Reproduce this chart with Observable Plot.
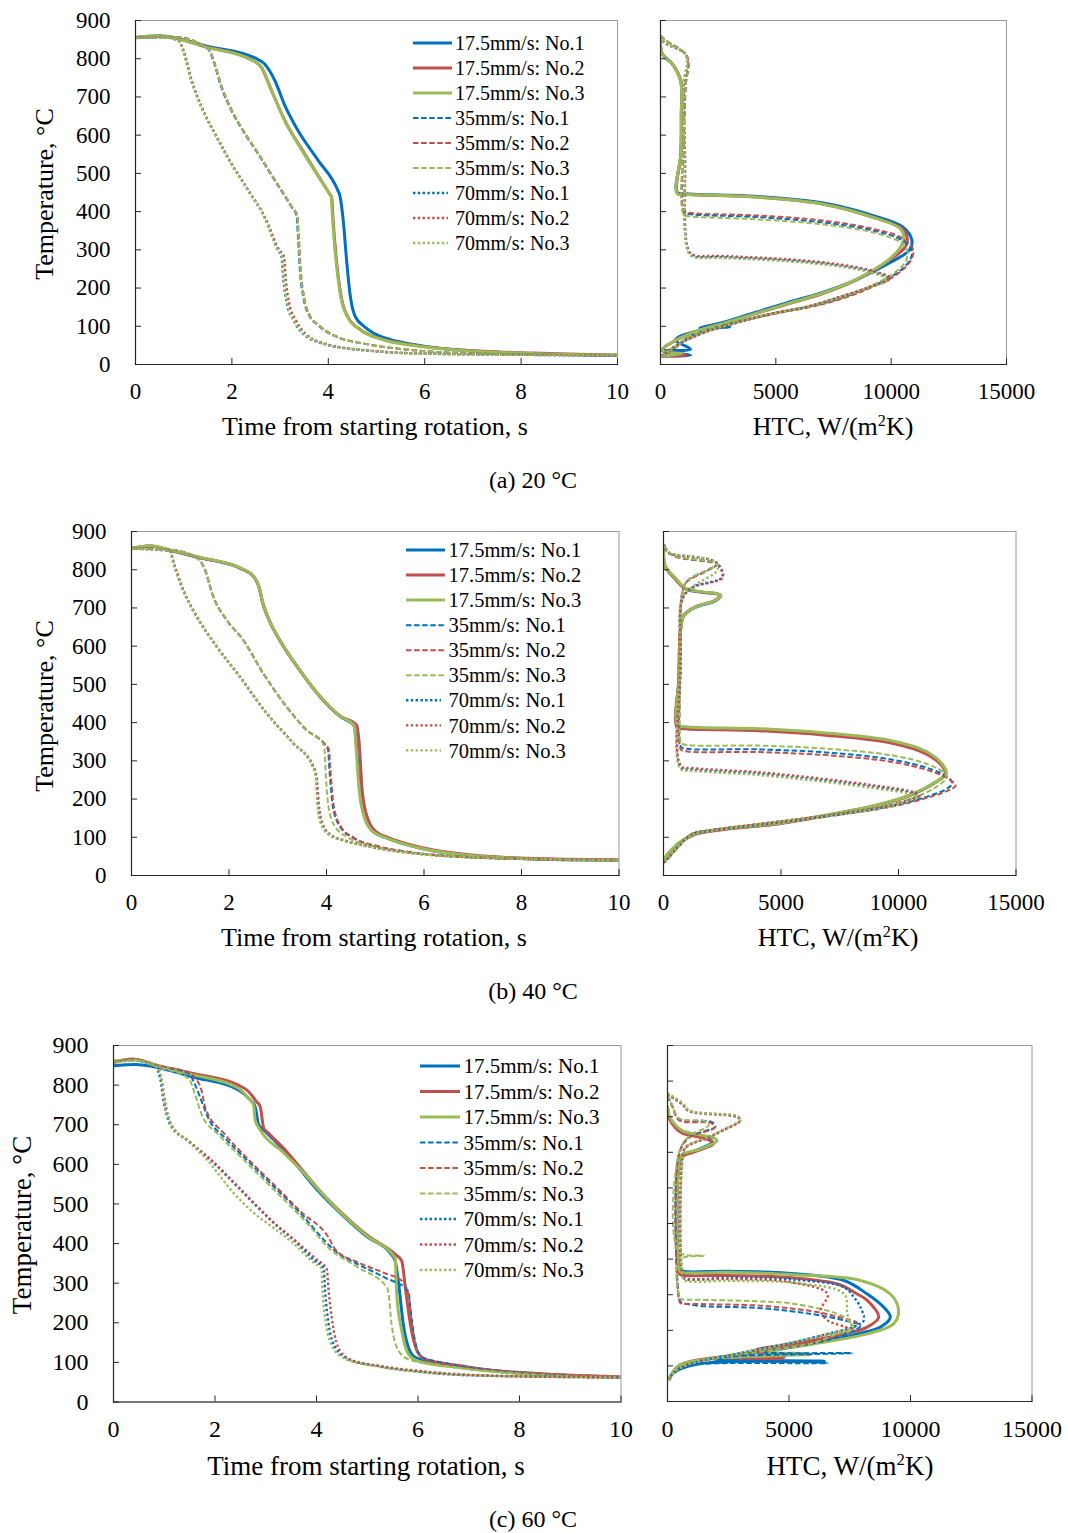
<!DOCTYPE html>
<html><head><meta charset="utf-8">
<script src="https://cdn.jsdelivr.net/npm/d3@7"></script>
<script src="https://cdn.jsdelivr.net/npm/@observablehq/plot@0.6"></script>
<style>
body{margin:0;background:#fff;}
#root{position:relative;width:1068px;height:1533px;font-family:"Liberation Serif","Times New Roman",serif;color:#000;overflow:hidden;}
.abs{position:absolute;white-space:nowrap;line-height:1;}
</style></head>
<body><div id="root"></div>
<script>
// ---------- labels ----------
const speeds = ["17.5mm/s", "35mm/s", "70mm/s"];
const runs = ["No.1", "No.2", "No.3"];
const captions = ["(a) 20 °C", "(b) 40 °C", "(c) 60 °C"];
const timeTicks = [0, 2, 4, 6, 8, 10];
const htcTicks = [0, 5000, 10000, 15000];
const tempTicks = [0, 100, 200, 300, 400, 500, 600, 700, 800, 900];
const tempTicksC = [0, 100, 200, 300, 400, 500, 600, 700, 800, 900, 1000];

// ---------- (a) 20 °C : temperature vs time [t, T, ...] ----------
const A17_1 = [0,855, 0.5,860, 1.5,832, 2.48,802, 2.68,786, 2.89,743, 3.1,677, 3.37,612, 3.79,534, 4.2,455, 4.24,442, 4.31,377, 4.38,272, 4.45,185, 4.55,128, 4.76,98, 4.97,80, 5.45,60, 6.14,45, 7.18,34, 8.2,28, 10,24];
const A17_2 = [0,855, 0.5,859, 1.5,830, 2.41,797, 2.61,778, 2.82,717, 3.1,638, 3.51,551, 4.03,446, 4.07,438, 4.1,377, 4.17,272, 4.27,176, 4.41,124, 4.69,89, 5.1,67, 5.8,50, 6.83,37, 8.2,30, 10,24];
const A17_3 = [0,856, 0.5,860, 1.5,829, 2.42,796, 2.62,777, 2.83,716, 3.1,637, 3.5,551, 4.02,447, 4.06,439, 4.09,378, 4.16,272, 4.26,176, 4.4,124, 4.68,89, 5.1,66, 5.8,49, 6.83,36, 8.2,29, 10,24];
const A35_1 = [0,855, 0.82,856, 1.5,826, 1.61,795, 1.78,725, 1.99,664, 2.27,603, 2.54,551, 2.89,481, 3.24,411, 3.34,390, 3.37,333, 3.41,246, 3.48,176, 3.58,133, 3.79,102, 4.2,71, 4.76,54, 5.8,37, 7.18,28, 10,24];
const A35_2 = [0,856, 0.82,857, 1.52,825, 1.63,793, 1.8,724, 2.01,663, 2.29,602, 2.56,550, 2.91,480, 3.26,410, 3.36,389, 3.39,332, 3.43,246, 3.5,176, 3.6,133, 3.81,102, 4.22,71, 4.78,54, 5.8,37, 7.2,28, 10,24];
const A35_3 = [0,855, 0.82,856, 1.51,826, 1.62,794, 1.79,725, 2.0,664, 2.28,603, 2.55,551, 2.9,481, 3.25,411, 3.35,392, 3.38,334, 3.42,246, 3.49,176, 3.59,133, 3.8,102, 4.21,71, 4.77,54, 5.8,37, 7.2,28, 10,24];
const A70_1 = [0,855, 0.6,856, 0.89,847, 0.99,821, 1.16,743, 1.37,673, 1.65,603, 1.99,525, 2.34,455, 2.68,385, 2.96,298, 3.03,281, 3.07,220, 3.14,159, 3.28,115, 3.48,80, 3.9,54, 4.76,37, 6.14,28, 10,24];
const A70_2 = [0,856, 0.6,857, 0.9,846, 1.0,820, 1.17,742, 1.38,672, 1.66,602, 2.0,524, 2.35,454, 2.69,384, 2.98,300, 3.08,282, 3.12,220, 3.19,159, 3.33,115, 3.53,80, 3.95,54, 4.8,37, 6.2,28, 10,24];
const A70_3 = [0,855, 0.6,856, 0.88,848, 0.98,822, 1.15,744, 1.36,674, 1.64,604, 1.98,526, 2.33,456, 2.67,386, 2.95,299, 3.04,282, 3.08,220, 3.15,159, 3.29,115, 3.5,80, 3.92,54, 4.78,37, 6.15,28, 10,24];

// ---------- (a) 20 °C : HTC vs temperature [h, T, ...] ----------
const AH17_1 = [0,860, 70,813, 500,787, 870,743, 900,650, 880,550, 730,450, 1230,446, 4100,440, 7000,423, 9200,390, 10500,360, 10900,325, 10800,300, 10000,268, 8500,222, 7000,188, 5500,162, 4100,136, 2700,110, 1700,95, 3000,99, 1600,88, 650,64, 1300,40, 70,36, 1300,24, 0,22];
const AH17_2 = [0,858, 80,812, 520,786, 880,742, 910,650, 890,550, 740,448, 1240,445, 4120,438, 7010,420, 9180,386, 10480,355, 10700,330, 10600,307, 9900,272, 8450,220, 7000,185, 5560,159, 4120,133, 2670,106, 1660,89, 650,63, 70,37, 1100,24, 0,22];
const AH17_3 = [0,860, 75,812, 510,786, 870,742, 900,650, 880,550, 720,447, 1230,445, 4110,438, 7000,420, 9170,386, 10400,355, 10550,333, 10400,307, 9850,272, 8400,220, 6950,185, 5500,159, 4100,133, 2650,106, 1650,89, 650,63, 70,37, 900,28, 0,22];
const AH35_1 = [0,860, 220,848, 1150,805, 1080,726, 1010,595, 1010,399, 1230,394, 4120,386, 7000,372, 9180,351, 10480,325, 10900,298, 10800,272, 10200,237, 8750,194, 7000,159, 4850,133, 2670,102, 1230,72, 650,45, 220,28, 70,21];
const AH35_2 = [0,860, 230,848, 1160,805, 1090,726, 1020,595, 1020,402, 1240,397, 4130,390, 7010,377, 9200,355, 10500,330, 10950,300, 10850,272, 10250,236, 8800,193, 7050,158, 4900,132, 2700,101, 1240,71, 660,44, 230,27, 70,21];
const AH35_3 = [0,860, 210,848, 1140,805, 1070,726, 1000,595, 1000,392, 1220,388, 4110,380, 7000,367, 9170,346, 10400,320, 10700,298, 10650,272, 10100,238, 8700,195, 6980,160, 4830,134, 2660,103, 1220,73, 640,45, 210,28, 70,21];
const AH70_1 = [0,860, 145,844, 1080,813, 1160,787, 1010,735, 1055,551, 1150,307, 1370,285, 2670,281, 5560,272, 7730,259, 9180,242, 9900,224, 9030,202, 7730,176, 6290,150, 4840,133, 3400,111, 1950,85, 940,58, 360,37, 70,24];
const AH70_2 = [0,858, 150,843, 1100,812, 1170,786, 1020,734, 1065,550, 1160,310, 1380,288, 2680,284, 5570,275, 7740,262, 9190,245, 9950,226, 9100,203, 7800,177, 6350,151, 4900,134, 3450,112, 2000,86, 960,59, 370,38, 70,24];
const AH70_3 = [0,860, 140,845, 1070,814, 1150,788, 1000,736, 1045,552, 1140,305, 1360,283, 2660,279, 5550,270, 7720,257, 9170,240, 9850,222, 8980,200, 7700,175, 6250,149, 4800,132, 3350,110, 1900,84, 920,57, 350,36, 70,24];

// ---------- (b) 40 °C : temperature vs time ----------
const B17_1 = [0,855, 0.37,862, 0.85,849, 1.39,832, 2.28,801, 2.49,784, 2.62,753, 2.69,714, 2.8,675, 3.03,618, 3.44,539, 3.86,469, 4.27,417, 4.57,391, 4.61,347, 4.68,225, 4.78,155, 4.95,116, 5.22,99, 5.91,72, 6.73,55, 8.09,44, 10,40];
const B17_2 = [0,855, 0.37,862, 0.85,849, 1.39,832, 2.28,801, 2.49,784, 2.62,753, 2.69,714, 2.8,675, 3.03,618, 3.44,539, 3.86,469, 4.27,418, 4.62,393, 4.67,347, 4.73,225, 4.83,155, 5.0,116, 5.27,99, 5.96,73, 6.78,56, 8.1,45, 10,41];
const B17_3 = [0,856, 0.37,863, 0.85,850, 1.39,833, 2.28,802, 2.49,785, 2.62,754, 2.69,715, 2.8,676, 3.03,619, 3.44,540, 3.86,470, 4.27,418, 4.57,392, 4.6,347, 4.67,225, 4.77,155, 4.94,116, 5.21,99, 5.9,72, 6.73,55, 8.09,44, 10,40];
const B35_1 = [0,855, 0.78,852, 1.36,829, 1.5,801, 1.67,731, 1.94,670, 2.28,618, 2.69,531, 3.17,443, 3.58,382, 3.96,343, 4.03,330, 4.06,277, 4.13,181, 4.27,129, 4.54,99, 5.02,77, 5.7,61, 6.73,49, 8.2,43, 10,40];
const B35_2 = [0,856, 0.78,853, 1.37,829, 1.51,800, 1.68,730, 1.95,669, 2.29,617, 2.7,530, 3.18,442, 3.59,381, 3.98,342, 4.05,329, 4.08,277, 4.15,181, 4.29,129, 4.56,99, 5.04,77, 5.72,61, 6.75,49, 8.2,43, 10,40];
const B35_3 = [0,855, 0.78,852, 1.36,829, 1.5,801, 1.67,731, 1.94,670, 2.28,618, 2.69,531, 3.17,443, 3.58,382, 3.93,345, 3.96,330, 3.98,277, 4.04,181, 4.17,129, 4.45,99, 4.95,77, 5.65,61, 6.7,49, 8.2,43, 10,40];
const B70_1 = [0,855, 0.78,849, 0.88,810, 1.05,749, 1.33,679, 1.74,600, 2.21,522, 2.76,426, 3.31,347, 3.72,286, 3.79,256, 3.82,190, 3.89,138, 4.06,107, 4.4,90, 5.02,72, 6.04,55, 7.41,46, 10,40];
const B70_2 = [0,856, 0.78,850, 0.89,809, 1.06,748, 1.34,678, 1.75,599, 2.22,521, 2.77,425, 3.32,346, 3.73,285, 3.8,255, 3.84,190, 3.91,138, 4.08,107, 4.42,90, 5.04,72, 6.06,55, 7.43,46, 10,41];
const B70_3 = [0,855, 0.77,850, 0.87,811, 1.04,750, 1.32,680, 1.73,601, 2.2,523, 2.75,427, 3.3,348, 3.71,287, 3.78,257, 3.81,190, 3.88,138, 4.05,107, 4.39,90, 5.0,72, 6.02,55, 7.4,46, 10,40];

// ---------- (b) 40 °C : HTC vs temperature ----------
const BH17_1 = [20,864, 60,811, 520,776, 940,750, 1650,741, 2430,733, 2220,719, 1370,702, 870,680, 730,645, 660,514, 590,392, 940,385, 4060,381, 6900,370, 9740,349, 11160,322, 11870,288, 12010,266, 11580,244, 10450,209, 9030,183, 6900,157, 4770,135, 2650,122, 1370,109, 800,91, 380,69, 90,48, 20,34];
const BH17_2 = [20,862, 60,810, 500,776, 920,751, 1620,742, 2400,734, 2200,720, 1350,703, 860,681, 720,646, 650,514, 580,388, 930,384, 4050,379, 6890,367, 9730,346, 11150,319, 11850,287, 11990,266, 11560,243, 10430,208, 9010,182, 6880,156, 4750,134, 2630,121, 1350,108, 790,90, 370,68, 90,47, 20,33];
const BH17_3 = [20,865, 60,812, 530,777, 950,751, 1660,742, 2440,734, 2230,720, 1380,703, 880,681, 740,646, 670,515, 600,394, 950,389, 4070,384, 6910,373, 9750,352, 11170,325, 11880,290, 12030,267, 11600,245, 10470,210, 9050,184, 6920,158, 4790,136, 2660,123, 1380,110, 810,92, 390,70, 95,49, 20,35];
const BH35_1 = [20,864, 380,838, 2290,815, 1900,800, 1000,770, 800,740, 720,650, 700,500, 720,340, 800,334, 4060,330, 6900,322, 9740,303, 11440,277, 12150,255, 12290,240, 12000,225, 11150,205, 9740,183, 6900,155, 4060,133, 1940,117, 1230,109, 660,78, 230,48, 20,34];
const BH35_2 = [20,864, 400,837, 2250,814, 1880,798, 990,768, 790,738, 710,650, 690,500, 710,333, 790,327, 4050,323, 6890,315, 9730,297, 11430,272, 12200,250, 12430,235, 12100,222, 11200,203, 9780,181, 6920,154, 4080,132, 1950,116, 1240,108, 670,77, 240,47, 20,33];
const BH35_3 = [20,864, 370,839, 2300,816, 1910,801, 1010,771, 810,741, 730,650, 710,500, 730,350, 810,344, 4070,340, 6910,332, 9750,314, 11300,290, 11950,268, 12050,255, 11800,240, 11000,212, 9700,186, 6890,157, 4050,135, 1930,118, 1220,110, 650,79, 220,49, 20,35];
const BH70_1 = [20,866, 160,846, 2200,820, 2500,781, 1230,754, 800,724, 730,558, 730,283, 1230,277, 4060,266, 6900,248, 9030,231, 10400,218, 10870,208, 10300,194, 9740,183, 6900,155, 4060,133, 1940,117, 1230,108, 660,78, 230,48, 20,34];
const BH70_2 = [20,865, 170,845, 2250,819, 2520,780, 1240,753, 810,723, 740,557, 740,287, 1240,281, 4070,270, 6910,252, 9040,235, 10450,221, 10900,210, 10350,196, 9780,185, 6930,157, 4080,135, 1960,118, 1240,109, 670,79, 240,49, 20,35];
const BH70_3 = [20,864, 150,847, 2150,821, 2300,800, 1220,755, 790,725, 720,559, 720,279, 1220,274, 4050,263, 6890,245, 9020,228, 10350,215, 10800,205, 10250,192, 9700,181, 6880,154, 4050,132, 1930,116, 1220,107, 650,77, 220,47, 20,33];

// ---------- (c) 60 °C : temperature vs time ----------
const C17_1 = [0,849, 0.43,852, 0.89,844, 1.54,821, 2.46,788, 2.66,767, 2.79,746, 2.86,700, 2.99,683, 3.32,641, 3.65,591, 4.04,532, 4.5,473, 5.02,415, 5.42,381, 5.55,356, 5.62,297, 5.71,196, 5.81,138, 5.94,113, 6.47,96, 7.45,79, 8.44,71, 10,62];
const C17_2 = [0,857, 0.36,866, 0.89,849, 1.54,830, 2.46,800, 2.66,784, 2.82,758, 2.89,746, 2.96,691, 3.05,679, 3.38,637, 3.71,587, 4.1,528, 4.5,477, 5.02,419, 5.55,373, 5.68,356, 5.75,289, 5.85,196, 5.98,129, 6.14,108, 6.8,92, 7.78,75, 10,64];
const C17_3 = [0,861, 0.4,864, 0.89,848, 1.54,827, 2.46,792, 2.66,767, 2.76,750, 2.79,713, 2.89,687, 3.32,633, 3.7,585, 4.1,528, 4.5,475, 5.02,417, 5.55,364, 5.58,272, 5.68,180, 5.81,121, 6.01,103, 6.8,87, 8,72, 10,62];
const C35_1 = [0,857, 0.4,863, 0.89,847, 1.48,830, 1.61,800, 1.74,758, 1.87,716, 2.2,666, 2.66,607, 3.19,540, 3.71,473, 4.17,406, 4.37,381, 4.83,347, 5.35,314, 5.81,280, 5.85,238, 5.94,155, 6.08,113, 6.47,100, 7.5,80, 10,62];
const C35_2 = [0,858, 0.4,865, 0.89,848, 1.48,832, 1.61,818, 1.74,784, 1.81,742, 2.2,675, 2.66,612, 3.19,545, 3.71,478, 4.24,415, 4.37,385, 4.83,352, 5.35,325, 5.68,306, 5.81,272, 5.88,196, 6.01,121, 6.21,104, 7.0,88, 8.5,72, 10,63];
const C35_3 = [0,856, 0.4,862, 0.89,845, 1.48,817, 1.61,775, 1.74,725, 2.07,675, 2.53,616, 3.19,532, 3.84,448, 4.24,389, 4.83,339, 5.39,289, 5.42,272, 5.48,196, 5.62,129, 5.81,108, 6.47,92, 8,72, 10,62];
const C70_1 = [0,857, 0.4,864, 0.82,847, 0.92,817, 0.99,758, 1.12,700, 1.48,658, 1.87,616, 2.4,549, 2.79,498, 3.19,448, 3.58,406, 3.97,356, 4.14,339, 4.17,280, 4.24,196, 4.37,138, 4.63,108, 5.16,92, 6.14,75, 7.13,67, 10,62];
const C70_2 = [0,858, 0.4,865, 0.84,846, 0.95,812, 1.02,755, 1.15,698, 1.5,657, 1.9,614, 2.43,547, 2.82,496, 3.22,446, 3.61,404, 4.0,360, 4.2,336, 4.24,280, 4.32,196, 4.46,130, 4.73,104, 5.3,90, 6.3,75, 7.3,67, 10,62];
const C70_3 = [0,856, 0.4,863, 0.86,845, 0.95,815, 1.0,760, 1.12,705, 1.45,660, 1.84,612, 2.35,530, 2.74,480, 3.15,440, 3.55,400, 3.94,352, 4.1,337, 4.12,280, 4.19,196, 4.32,138, 4.58,108, 5.1,92, 6.1,75, 7.1,67, 10,62];

// ---------- (c) 60 °C : HTC vs temperature ----------
const CH17_1 = [0,827, 70,799, 340,771, 610,757, 1150,747, 1700,738, 1830,728, 1150,705, 610,691, 475,668, 475,377, 540,368, 2510,366, 5230,359, 7270,340, 8220,302, 8760,274, 9170,237, 8760,209, 7810,190, 5910,162, 3870,139, 1830,120, 6450,113, 1150,104, 200,78, 70,59];
const CH17_2 = [0,820, 70,795, 340,768, 610,754, 1150,745, 1700,735, 1900,724, 1150,702, 610,688, 475,665, 475,360, 540,356, 2510,354, 5230,347, 7000,330, 7810,302, 8220,284, 8690,237, 8220,209, 7400,192, 5500,165, 3600,143, 4800,124, 3200,120, 1830,122, 475,101, 200,80, 70,62];
const CH17_3 = [0,830, 70,803, 340,775, 610,761, 1150,751, 1830,742, 2040,733, 1300,708, 610,694, 475,671, 475,372, 540,364, 2510,363, 5230,356, 7940,340, 9170,302, 9510,256, 9300,218, 8220,190, 6100,163, 4000,140, 5900,133, 1900,121, 475,102, 200,80, 70,60];
const CH35_1 = [0,860, 200,830, 475,794, 1830,785, 1970,772, 880,742, 475,696, 475,290, 540,280, 1150,270, 3870,262, 5910,246, 7270,228, 7940,213, 7400,190, 5910,162, 3870,139, 7600,136, 3000,128, 1830,120, 6590,108, 1150,104, 475,92, 70,66];
const CH35_2 = [0,858, 200,828, 475,790, 1800,782, 1950,770, 870,740, 475,694, 475,285, 540,276, 1150,274, 3870,269, 5910,254, 7000,238, 7800,220, 7500,200, 5910,165, 3870,141, 1830,121, 475,95, 70,65];
const CH35_3 = [0,862, 200,832, 475,795, 1500,788, 1700,776, 880,745, 475,700, 475,420, 1490,410, 475,398, 475,296, 540,288, 1150,286, 3500,282, 5230,274, 7270,237, 7670,204, 7000,190, 5910,163, 3870,140, 1830,121, 475,98, 70,66];
const CH70_1 = [0,864, 610,836, 880,817, 2920,799, 2990,789, 2240,761, 1700,742, 750,714, 610,680, 610,359, 700,347, 2510,347, 5230,342, 7270,321, 7670,293, 7940,265, 8080,228, 7670,210, 6590,190, 5230,167, 3870,148, 2510,129, 1150,110, 475,92, 70,68];
const CH70_2 = [0,862, 600,835, 870,816, 2900,798, 2980,788, 2230,760, 1690,741, 740,713, 600,679, 600,354, 690,345, 2500,344, 5000,336, 6590,302, 6310,256, 6590,228, 7400,205, 6590,188, 5230,167, 3870,148, 2510,129, 1150,110, 475,92, 70,68];
const CH70_3 = [0,866, 620,838, 890,818, 2930,800, 3000,790, 2250,762, 1710,743, 760,715, 620,681, 620,352, 710,340, 2520,339, 5230,333, 7270,302, 7400,246, 7540,209, 6590,190, 5230,167, 3870,148, 2510,129, 1150,110, 475,92, 70,68];

// ---------- styling (kept apart from the data) ----------
const runColors = ["#0070C0", "#C0504D", "#9BBB59"];
const speedStyles = [
  {w: 3, dash: null, cap: "butt"},
  {w: 2, dash: "5.5,2.6", cap: "butt"},
  {w: 2.4, dash: "2.4,2.4", cap: "butt"}
];
const FONT = "'Liberation Serif','Times New Roman',serif";

function toPts(flat) {
  const out = [];
  for (let i = 0; i < flat.length; i += 2) out.push({x: flat[i], y: flat[i + 1]});
  return out;
}

const root = document.getElementById("root");

function addText(html, cx, cy, size, rotate) {
  const d = document.createElement("div");
  d.className = "abs";
  d.innerHTML = html;
  d.style.fontSize = size + "px";
  d.style.fontFamily = FONT;
  d.style.left = cx + "px";
  d.style.top = cy + "px";
  d.style.transform = "translate(-50%,-50%)" + (rotate ? " rotate(-90deg)" : "");
  root.appendChild(d);
}

function makePanel(cfg) {
  const ml = 80, mr = 45, mt = 20, mb = 50;
  const fw = cfg.fr - cfg.fl, fh = cfg.fb - cfg.ft;
  const marks = [];
  cfg.series.forEach((grp, si) => grp.forEach((arr, ri) => {
    const st = speedStyles[si];
    marks.push(Plot.line(toPts(arr), {
      x: "x", y: "y", stroke: runColors[ri], strokeWidth: st.w,
      strokeDasharray: st.dash, strokeLinecap: st.cap, strokeLinejoin: "round",
      curve: cfg.curve, clip: true
    }));
  }));
  marks.push(Plot.frame({stroke: "#9a9a9a", strokeWidth: 1}));
  marks.push(Plot.frame({anchor: "bottom", stroke: "#262626", strokeWidth: 1.2}));
  marks.push(Plot.frame({anchor: "left", stroke: "#262626", strokeWidth: 1.2}));
  marks.push(Plot.tickX(cfg.xTicks, {x: d => d, insetTop: fh - 6, stroke: "#262626"}));
  marks.push(Plot.tickY(cfg.yTicks, {y: d => d, insetRight: fw - 6, stroke: "#262626"}));
  marks.push(Plot.axisX(cfg.xTicks, {tickSize: 0, tickPadding: cfg.xPad, fontSize: cfg.fs, label: null, tickFormat: d => String(d)}));
  if (cfg.yLabels) marks.push(Plot.axisY(cfg.yTicks, {tickSize: 0, tickPadding: cfg.yPad, fontSize: cfg.fs, label: null, tickFormat: d => String(d)}));
  const svg = Plot.plot({
    width: fw + ml + mr, height: fh + mt + mb,
    marginLeft: ml, marginRight: mr, marginTop: mt, marginBottom: mb,
    x: {domain: cfg.xDomain},
    y: cfg.yLabels ? {domain: cfg.yDomain} : {domain: cfg.yDomain, axis: null},
    style: {fontFamily: FONT, fontSize: cfg.fs + "px", background: "transparent", color: "#000", overflow: "visible"},
    marks
  });
  svg.style.position = "absolute";
  svg.style.left = (cfg.fl - ml) + "px";
  svg.style.top = (cfg.ft - mt) + "px";
  root.appendChild(svg);
}

function makeLegend(lg) {
  const ns = "http://www.w3.org/2000/svg";
  const svg = document.createElementNS(ns, "svg");
  svg.setAttribute("width", 260); svg.setAttribute("height", 260);
  svg.style.position = "absolute";
  svg.style.left = lg.x + "px"; svg.style.top = (lg.y - 15) + "px";
  let i = 0;
  speeds.forEach((sp, si) => runs.forEach((rn, ri) => {
    const st = speedStyles[si];
    const cy = 15 + i * lg.dy;
    const ln = document.createElementNS(ns, "line");
    ln.setAttribute("x1", 0); ln.setAttribute("x2", si === 2 ? lg.lw - 4 : lg.lw);
    ln.setAttribute("y1", cy); ln.setAttribute("y2", cy);
    ln.setAttribute("stroke", runColors[ri]); ln.setAttribute("stroke-width", st.w);
    if (st.dash) ln.setAttribute("stroke-dasharray", st.dash);
    ln.setAttribute("stroke-linecap", st.cap);
    svg.appendChild(ln);
    const tx = document.createElementNS(ns, "text");
    tx.setAttribute("x", lg.tx); tx.setAttribute("y", cy);
    tx.setAttribute("dy", "0.35em");
    tx.setAttribute("font-family", FONT); tx.setAttribute("font-size", lg.fs);
    tx.textContent = sp + ": " + rn;
    svg.appendChild(tx);
    i++;
  }));
  root.appendChild(svg);
}

const panels = [
  {
    left: {fl: 134.5, fr: 616.5, ft: 20, fb: 364},
    right: {fl: 660, fr: 1006, ft: 20, fb: 364},
    time: [[A17_1, A17_2, A17_3], [A35_1, A35_2, A35_3], [A70_1, A70_2, A70_3]],
    htc: [[AH17_1, AH17_2, AH17_3], [AH35_1, AH35_2, AH35_3], [AH70_1, AH70_2, AH70_3]],
    htcY: [0, 900], htcTicks: tempTicks,
    fs: 23, lab: 26, xl: [375, 427], xr: [833, 427], yl: [45, 194], cap: [533, 480],
    legend: {x: 413, y: 43, dy: 25, lw: 39, tx: 42, fs: 20}
  },
  {
    left: {fl: 130.5, fr: 618, ft: 530.5, fb: 874.5},
    right: {fl: 662.5, fr: 1015, ft: 530.5, fb: 874.5},
    time: [[B17_1, B17_2, B17_3], [B35_1, B35_2, B35_3], [B70_1, B70_2, B70_3]],
    htc: [[BH17_1, BH17_2, BH17_3], [BH35_1, BH35_2, BH35_3], [BH70_1, BH70_2, BH70_3]],
    htcY: [0, 900], htcTicks: tempTicks,
    fs: 23, lab: 26, xl: [374, 938], xr: [838, 938], yl: [45, 706], cap: [533, 991],
    legend: {x: 406, y: 549.5, dy: 25.05, lw: 39, tx: 42.5, fs: 20.5}
  },
  {
    left: {fl: 113, fr: 620.5, ft: 1044.5, fb: 1401},
    right: {fl: 667, fr: 1031.5, ft: 1045, fb: 1401},
    time: [[C17_1, C17_2, C17_3], [C35_1, C35_2, C35_3], [C70_1, C70_2, C70_3]],
    htc: [[CH17_1, CH17_2, CH17_3], [CH35_1, CH35_2, CH35_3], [CH70_1, CH70_2, CH70_3]],
    htcY: [0, 1000], htcTicks: tempTicksC,
    fs: 24, lab: 27, xl: [366, 1466], xr: [850, 1466], yl: [22, 1225], cap: [533, 1519],
    legend: {x: 420, y: 1066, dy: 25.5, lw: 40, tx: 43.5, fs: 21}
  }
];

panels.forEach((p, k) => {
  makePanel({...p.left, series: p.time, xDomain: [0, 10], yDomain: [0, 900],
    xTicks: timeTicks, yTicks: tempTicks, yLabels: true, fs: p.fs, xPad: 18, yPad: 25, curve: "monotone-x"});
  makePanel({...p.right, series: p.htc, xDomain: [0, 15000], yDomain: p.htcY,
    xTicks: htcTicks, yTicks: p.htcTicks, yLabels: false, fs: p.fs, xPad: 18, yPad: 25, curve: "catmull-rom"});
  makeLegend(p.legend);
  addText("Time from starting rotation, s", p.xl[0], p.xl[1], p.lab);
  addText("HTC, W/(m<sup style='font-size:0.62em;vertical-align:0.55em;line-height:0'>2</sup>K)", p.xr[0], p.xr[1], p.lab);
  addText("Temperature, °C", p.yl[0], p.yl[1], p.lab, true);
  addText(captions[k], p.cap[0], p.cap[1], 24);
});
</script>
</body></html>
